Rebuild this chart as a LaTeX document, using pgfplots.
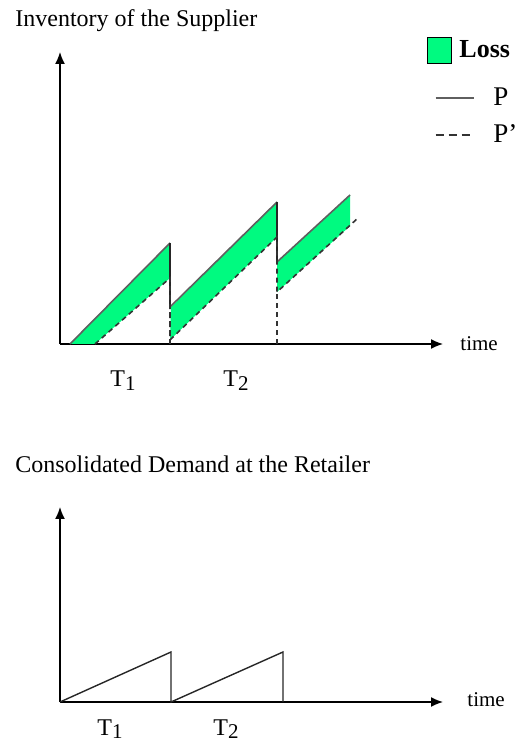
\documentclass[border=0pt]{standalone}
\usepackage{fontspec}
\setmainfont{Liberation Serif}
\usepackage{pgfplots}
\pgfplotsset{compat=1.18}
\usetikzlibrary{arrows.meta}
\definecolor{lossgreen}{RGB}{0,250,128}
\definecolor{pline}{RGB}{95,95,95}
\begin{document}
\begin{tikzpicture}[x=1pt,y=1pt]
\useasboundingbox (-30pt,172pt) rectangle (228.5pt,-199pt);
% ---------------- Top: Inventory of the Supplier ----------------
\begin{axis}[
  at={(0pt,0pt)}, anchor=south west,
  width=191.5pt, height=146pt, scale only axis,
  xmin=0, xmax=383, ymin=0, ymax=292,
  axis lines=left, ticks=none, clip=false,
  axis line style={line width=0.75pt, -{Latex[length=6pt,width=5pt]}},
  legend cell align=left,
  legend style={at={(axis cs:367,307)}, anchor=north west, draw=none, fill=none,
    inner sep=0pt, outer sep=0pt,
    row sep=8pt, column sep=0pt, nodes={inner sep=0pt},
    font=\fontsize{13.5}{16}\selectfont},
]
% loss areas (between P and P')
\addplot[fill=lossgreen, draw=none, forget plot] coordinates {(10,0) (110,101) (110,66) (35,0)} -- cycle;
\addplot[fill=lossgreen, draw=none, forget plot] coordinates {(111,37) (217,142) (217,107) (110,4)} -- cycle;
\addplot[fill=lossgreen, draw=none, forget plot] coordinates {(217,82) (290,149) (290,118) (217,52)} -- cycle;
% P (solid)
\addplot[pline, line width=0.8pt, forget plot] coordinates {(10,0) (110,101)};
\addplot[black!85, line width=0.8pt, forget plot] coordinates {(110,101) (110,37)};
\addplot[pline, line width=0.8pt, forget plot] coordinates {(110,37) (217,142)};
\addplot[black!85, line width=0.8pt, forget plot] coordinates {(217,142) (217,82)};
\addplot[pline, line width=0.8pt, forget plot] coordinates {(217,82) (290,149)};
% P' (dashed)
\addplot[black!80, line width=0.8pt, dash pattern=on 2.5pt off 2pt, forget plot] coordinates {(35,0) (110,66) (110,4) (217,107) (217,52) (298,126)};
% drop lines at T1, T2 ends
\addplot[black!80, line width=0.8pt, dash pattern=on 2.5pt off 2pt, forget plot] coordinates {(110,0) (110,37)};
\addplot[black!80, line width=0.8pt, dash pattern=on 2.5pt off 2pt, forget plot] coordinates {(217,0) (217,52)};
% legend
\addlegendimage{legend image code/.code={\draw[fill=lossgreen,draw=black,line width=0.6pt] (0pt,-6.5pt) rectangle (12pt,6.5pt); \path[draw=none,fill=none] (0pt,-6.5pt) rectangle (23pt,6.5pt);}}
\addlegendentry{\hspace*{-7.5pt}\fontsize{13}{16}\selectfont\textbf{Loss}}
\addlegendimage{legend image code/.code={\draw[pline,line width=0.8pt] (4pt,0pt) -- (23pt,0pt); \path[draw=none,fill=none] (0pt,-0.5pt) rectangle (23pt,9pt);}}
\addlegendentry{\hspace*{9.5pt}P}
\addlegendimage{legend image code/.code={\draw[black!80,line width=0.8pt,dash pattern=on 4pt off 2.5pt] (4pt,0pt) -- (23pt,0pt); \path[draw=none,fill=none] (0pt,-5pt) rectangle (23pt,5pt);}}
\addlegendentry{\hspace*{9.5pt}P'}
% texts
\node[inner sep=0pt, anchor=base west, font=\fontsize{12}{14}\selectfont] at (axis cs:-45,317) {Inventory of the Supplier};
\node[inner sep=0pt, anchor=west, font=\fontsize{10.5}{12}\selectfont] at (axis cs:400,0) {time};
\node[inner sep=0pt, anchor=base west, font=\fontsize{12}{14}\selectfont] at (axis cs:50,-43) {T\raisebox{-0.35ex}{\fontsize{10.5}{12}\selectfont 1}};
\node[inner sep=0pt, anchor=base west, font=\fontsize{12}{14}\selectfont] at (axis cs:163,-43) {T\raisebox{-0.35ex}{\fontsize{10.5}{12}\selectfont 2}};
\end{axis}
% ---------------- Bottom: Consolidated Demand at the Retailer ----------------
\begin{axis}[
  at={(0pt,-179pt)}, anchor=south west,
  width=191.5pt, height=97.5pt, scale only axis,
  xmin=0, xmax=383, ymin=0, ymax=195,
  axis lines=left, ticks=none, clip=false,
  axis line style={line width=0.75pt, -{Latex[length=6pt,width=5pt]}},
]
\addplot[black!85, line width=0.7pt] coordinates {(0,0) (111,50) (111,0) (223,50) (223,0)};
\node[inner sep=0pt, anchor=base west, font=\fontsize{12}{14}\selectfont] at (axis cs:-45,229) {Consolidated Demand at the Retailer};
\node[inner sep=0pt, anchor=west, font=\fontsize{10.5}{12}\selectfont] at (axis cs:407,2) {time};
\node[inner sep=0pt, anchor=base west, font=\fontsize{12}{14}\selectfont] at (axis cs:37,-33) {T\raisebox{-0.35ex}{\fontsize{10.5}{12}\selectfont 1}};
\node[inner sep=0pt, anchor=base west, font=\fontsize{12}{14}\selectfont] at (axis cs:153,-33) {T\raisebox{-0.35ex}{\fontsize{10.5}{12}\selectfont 2}};
\end{axis}
\end{tikzpicture}
\end{document}
